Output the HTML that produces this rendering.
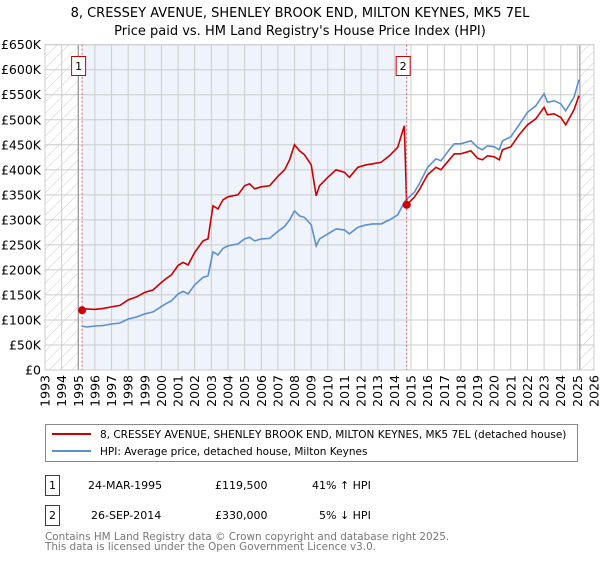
<!DOCTYPE html>
<html><head><meta charset="utf-8"><style>
body{margin:0;background:#fff;font-family:"Liberation Sans","DejaVu Sans",sans-serif}
svg text{font-family:"DejaVu Sans","Liberation Sans",sans-serif}
</style></head><body>
<svg id="c" width="600" height="560" xmlns="http://www.w3.org/2000/svg">
<defs><pattern id="h" width="8" height="8" patternUnits="userSpaceOnUse" patternTransform="rotate(45)"><line x1="0" y1="0" x2="0" y2="8" stroke="#ccc" stroke-width="1"/></pattern></defs>
<text x="300" y="17" text-anchor="middle" font-size="13">8, CRESSEY AVENUE, SHENLEY BROOK END, MILTON KEYNES, MK5 7EL</text>
<text x="300" y="35" text-anchor="middle" font-size="13">Price paid vs. HM Land Registry's House Price Index (HPI)</text>
<g id="plot"></g>
<g>
<rect x="45.5" y="424.5" width="532" height="37" fill="#fff" stroke="#888"/>
<line x1="52" y1="434" x2="91" y2="434" stroke="#cc0000" stroke-width="2"/>
<text x="100" y="438" font-size="10.5">8, CRESSEY AVENUE, SHENLEY BROOK END, MILTON KEYNES, MK5 7EL (detached house)</text>
<line x1="52" y1="451" x2="91" y2="451" stroke="#5b8fd0" stroke-width="2"/>
<text x="100" y="455" font-size="10.5">HPI: Average price, detached house, Milton Keynes</text>
</g>
<g font-size="11">
<rect x="45.5" y="475.5" width="14" height="20" fill="#fff" stroke="#cc0000"/><text x="52.5" y="489" text-anchor="middle">1</text>
<text x="88" y="489">24-MAR-1995</text><text x="215" y="489">£119,500</text><text x="312" y="489">41% ↑ HPI</text>
<rect x="45.5" y="505.5" width="14" height="20" fill="#fff" stroke="#cc0000"/><text x="52.5" y="519" text-anchor="middle">2</text>
<text x="91" y="519">26-SEP-2014</text><text x="215" y="519">£330,000</text><text x="319" y="519">5% ↓ HPI</text>
</g>
<text x="45" y="540" font-size="10.4" fill="#777">Contains HM Land Registry data © Crown copyright and database right 2025.</text>
<text x="45" y="550" font-size="10.4" fill="#777">This data is licensed under the Open Government Licence v3.0.</text>
</svg>
<script>
const hpiYears=[1995.2,1995.5,1996,1996.5,1997,1997.5,1998,1998.5,1999,1999.5,2000,2000.3,2000.6,2001,2001.3,2001.6,2002,2002.5,2002.8,2003.1,2003.4,2003.7,2004,2004.6,2005,2005.3,2005.6,2006,2006.5,2007,2007.4,2007.7,2008,2008.3,2008.6,2009,2009.3,2009.5,2010,2010.5,2011,2011.3,2011.8,2012.3,2012.7,2013.2,2013.7,2014.2,2014.6,2014.8,2015.2,2015.5,2016,2016.5,2016.8,2017.3,2017.6,2018,2018.6,2019,2019.3,2019.6,2020,2020.3,2020.5,2021,2021.5,2022,2022.5,2023,2023.2,2023.6,2024,2024.3,2024.8,2025.1];
const hpiValues=[88,86,88,89,92,94,102,106,112,116,127,133,138,152,157,152,170,185,188,236,230,243,248,252,262,265,258,262,263,277,287,300,318,308,305,290,248,262,272,282,280,272,285,290,292,292,300,310,335,343,355,372,405,422,418,440,452,452,458,445,440,448,446,440,458,466,490,515,528,552,535,538,532,518,545,580];
const redYears1=[1995.2,1995.5,1996,1996.5,1997,1997.5,1998,1998.5,1999,1999.5,2000,2000.3,2000.6,2001,2001.3,2001.6,2002,2002.5,2002.8,2003.1,2003.4,2003.7,2004,2004.6,2005,2005.3,2005.6,2006,2006.5,2007,2007.4,2007.7,2008,2008.3,2008.6,2009,2009.3,2009.5,2010,2010.5,2011,2011.3,2011.8,2012.3,2012.7,2013.2,2013.7,2014.2,2014.6,2014.74];
const redValues1=[119.5,122,121,123,126,129,140,146,155,160,175,183,190,209,215,210,235,258,262,328,322,340,346,350,368,372,362,366,368,387,400,420,450,438,430,410,348,368,385,400,395,385,405,410,412,415,428,445,488,330];
const redYears2=[2014.74,2015.2,2015.5,2016,2016.5,2016.8,2017.3,2017.6,2018,2018.6,2019,2019.3,2019.6,2020,2020.3,2020.5,2021,2021.5,2022,2022.5,2023,2023.2,2023.6,2024,2024.3,2024.8,2025.1];
const redValues2=[330,345,360,390,405,400,420,432,432,438,423,420,428,426,420,440,446,470,490,502,525,510,512,505,490,520,548];
const yTicks=[0,50,100,150,200,250,300,350,400,450,500,550,600,650];
const yTickLabels=["£0","£50K","£100K","£150K","£200K","£250K","£300K","£350K","£400K","£450K","£500K","£550K","£600K","£650K"];
const sales=[{n:"1",year:1995.23,value:119.5},{n:"2",year:2014.74,value:330}];
const X0=45,X1=594,Y0=370,Y1=44.7,YMIN=1993,YMAX=2026;
const xs=y=>X0+(y-YMIN)/(YMAX-YMIN)*(X1-X0);
const ys=v=>Y0-v/650*(Y0-Y1);
const NS="http://www.w3.org/2000/svg";
const g=document.getElementById('plot');
function mk(t,a,p){const e=document.createElementNS(NS,t);for(const k in a)e.setAttribute(k,a[k]);(p||g).appendChild(e);return e;}
const sh=mk('rect',{x:xs(sales[0].year),y:Y1,width:xs(sales[1].year)-xs(sales[0].year),height:Y0-Y1,fill:'#eef3fc'});


const hl=mk('rect',{x:X0,y:Y1,width:xs(1995)-X0,height:Y0-Y1,fill:'url(#h)'});


const hr=mk('rect',{x:xs(2025.15),y:Y1,width:X1-xs(2025.15),height:Y0-Y1,fill:'url(#h)'});


for(let i=0;i<yTicks.length;i++){
 const yy=ys(yTicks[i]);
 const l=mk('line',{x1:X0,x2:X1,y1:yy,y2:yy,stroke:'#ccc','stroke-width':1});
 
 
 const t=mk('text',{x:41,y:yy+4.5,'text-anchor':'end','font-size':12.5});
 
 
 t.textContent=yTickLabels[i];
}
for(let yr=YMIN;yr<=YMAX;yr++){
 const xx=xs(yr);
 const l=mk('line',{x1:xx,x2:xx,y1:Y1,y2:Y0,stroke:'#ccc','stroke-width':1});
 
 
 const t=mk('text',{x:0,y:0,'text-anchor':'end','font-size':12.5,transform:`translate(${xx+4.5},375) rotate(-90)`});
 
 
 t.textContent=yr;
}
const bl=mk('line',{x1:xs(1995),x2:xs(1995),y1:Y1,y2:Y0,stroke:'#888'});


const br=mk('line',{x1:xs(2025.15),x2:xs(2025.15),y1:Y1,y2:Y0,stroke:'#888'});


const fr=mk('rect',{x:X0,y:Y1,width:X1-X0,height:Y0-Y1,fill:'none',stroke:'#ccc'});


function pts(xa,va){return xa.map((x,i)=>xs(x).toFixed(1)+','+ys(va[i]).toFixed(1)).join(' ');}
const hp=mk('polyline',{points:pts(hpiYears,hpiValues),fill:'none',stroke:'#5b8fd0','stroke-width':1.6});


const r1=mk('polyline',{points:pts(redYears1,redValues1),fill:'none',stroke:'#cc0000','stroke-width':1.6});


const r2=mk('polyline',{points:pts(redYears2,redValues2),fill:'none',stroke:'#cc0000','stroke-width':1.6});


sales.forEach(s=>{
 const xx=xs(s.year);
 const d=mk('line',{x1:xx,x2:xx,y1:Y1,y2:Y0,stroke:'#e06060','stroke-dasharray':'2,2'});
 
 
 const c=mk('circle',{cx:xx,cy:ys(s.value),r:4,fill:'#cc0000'});
 
 
 const b=mk('rect',{x:xx-10.5,y:56.5,width:14,height:19,fill:'#fff',stroke:'#cc0000'});
 
 
 const t=mk('text',{x:xx-3.5,y:70,'text-anchor':'middle','font-size':11});
 
 
 t.textContent=s.n;
});
</script>
</body></html>
